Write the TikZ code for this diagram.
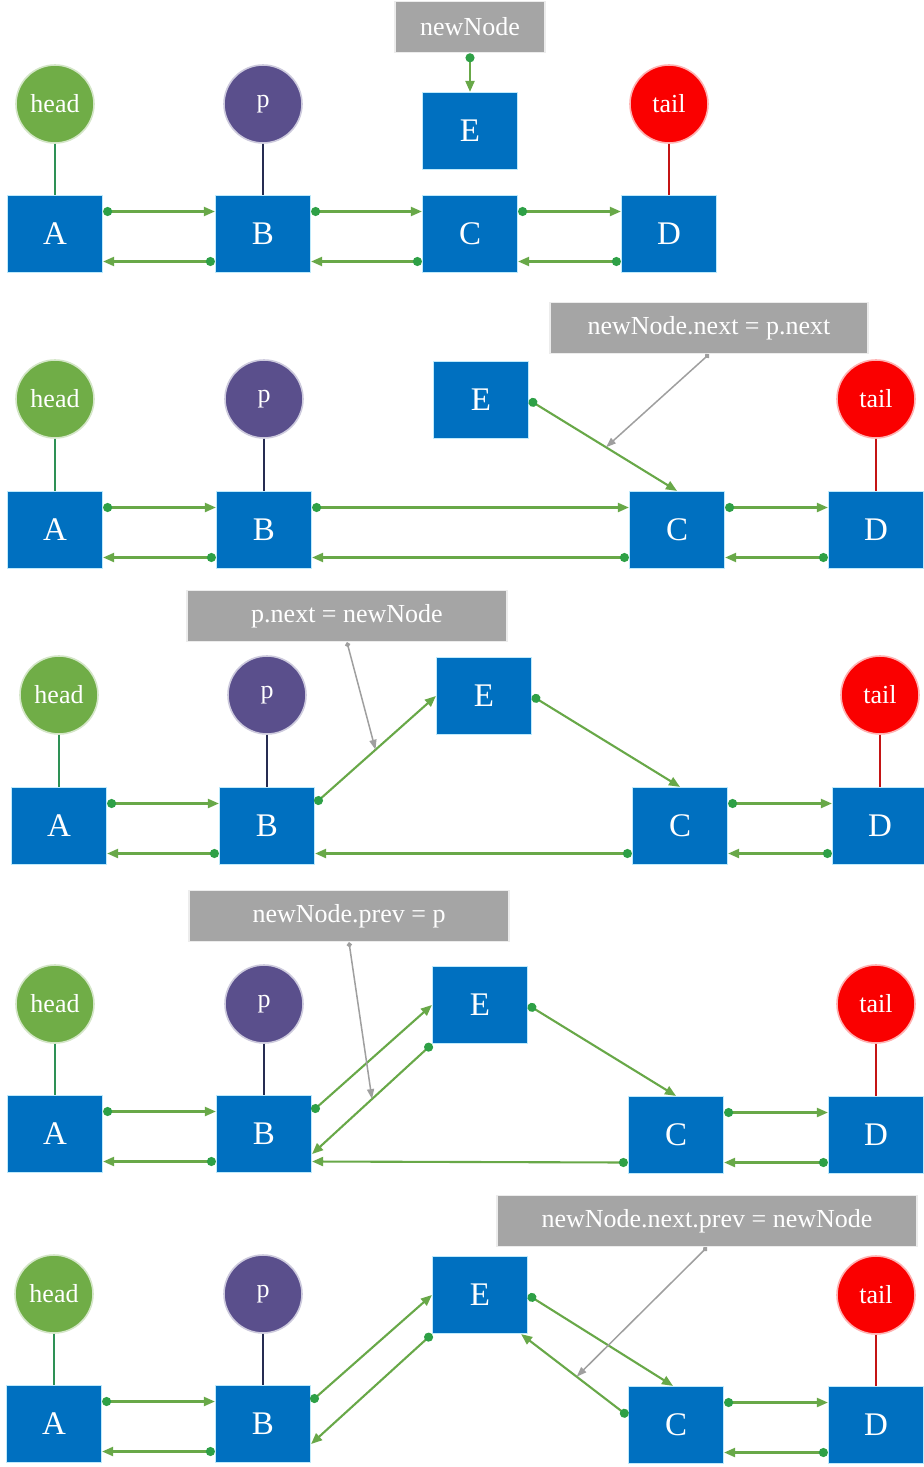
\documentclass[tikz,border=0pt]{standalone}
\usepackage{fontspec}
\setmainfont{Liberation Serif}
\usepackage{tikz}
\usetikzlibrary{arrows.meta}

\definecolor{boxblue}{RGB}{0,112,192}
\definecolor{headgreen}{RGB}{112,173,71}
\definecolor{ppurple}{RGB}{90,79,140}
\definecolor{tailred}{RGB}{250,0,0}
\definecolor{notegray}{RGB}{165,165,165}
\definecolor{ptrgreen}{RGB}{104,168,72}
\definecolor{dotgreen}{RGB}{46,160,70}
\definecolor{headline}{RGB}{46,145,85}
\definecolor{pline}{RGB}{38,44,82}
\definecolor{tailline}{RGB}{196,20,20}

\begin{document}
\begin{tikzpicture}[x=0.5pt, y=-0.5pt]
\tikzset{
  elem/.style={rectangle, fill=boxblue, draw=white!75!cyan, line width=0.6pt,
    minimum width=47.5pt, minimum height=38.5pt, inner sep=0pt, text=white,
    font=\fontsize{16.5}{18}\selectfont},
  refc/.style={circle, draw=white!70!#1, fill=#1, line width=0.8pt,
    minimum size=39pt, inner sep=0pt, text=white, font=\fontsize{13}{15}\selectfont},
  note/.style={rectangle, fill=notegray, draw=white!85!gray, line width=0.8pt,
    minimum height=25.5pt, inner sep=0pt, text=white, font=\fontsize{13}{15}\selectfont},
  ptr/.style={draw=ptrgreen, line width=1.05pt,
    {Circle[length=4.5pt, color=dotgreen]}-{Triangle[length=5.5pt, width=4.5pt]}},
  hint/.style={draw=gray!75, line width=0.75pt,
    {Circle[length=2.5pt]}-{Triangle[length=5pt, width=3.5pt]}},
  fwd/.style={yshift=11.25pt},
  bwd/.style={yshift=-13.75pt}
}
\fill[white] (0,0) rectangle (924,1467);
\useasboundingbox (0,0) rectangle (924,1467);

\node[note, minimum width=75pt] (note1) at (470,27) {newNode};
\node[refc=headgreen] (head1) at (55,104) {head};
\node[refc=ppurple] (p1) at (263,104) {p};
\node[refc=tailred] (tail1) at (669,104) {tail};
\node[elem] (E1) at (470,131) {E};
\node[elem] (A1) at (55,234) {A};
\node[elem] (B1) at (263,234) {B};
\node[elem] (C1) at (470,234) {C};
\node[elem] (D1) at (669,234) {D};
\draw[headline, line width=0.8pt] (head1) -- (A1);
\draw[pline, line width=0.8pt] (p1) -- (B1);
\draw[tailline, line width=0.8pt] (tail1) -- (D1);
\draw[ptr] (note1.south) -- (E1.north);
\draw[ptr] ([fwd]A1.east) -- ([fwd]B1.west);
\draw[ptr] ([bwd]B1.west) -- ([bwd]A1.east);
\draw[ptr] ([fwd]B1.east) -- ([fwd]C1.west);
\draw[ptr] ([bwd]C1.west) -- ([bwd]B1.east);
\draw[ptr] ([fwd]C1.east) -- ([fwd]D1.west);
\draw[ptr] ([bwd]D1.west) -- ([bwd]C1.east);

\node[note, minimum width=159pt] (note2) at (709,328) {newNode.next = p.next};
\node[refc=headgreen] (head2) at (55,399) {head};
\node[refc=ppurple] (p2) at (264,399) {p};
\node[refc=tailred] (tail2) at (876,399) {tail};
\node[elem] (E2) at (481,400) {E};
\node[elem] (A2) at (55,530) {A};
\node[elem] (B2) at (264,530) {B};
\node[elem] (C2) at (677,530) {C};
\node[elem] (D2) at (876,530) {D};
\draw[headline, line width=0.8pt] (head2) -- (A2);
\draw[pline, line width=0.8pt] (p2) -- (B2);
\draw[tailline, line width=0.8pt] (tail2) -- (D2);
\draw[ptr] ([fwd]A2.east) -- ([fwd]B2.west);
\draw[ptr] ([bwd]B2.west) -- ([bwd]A2.east);
\draw[ptr] ([fwd]B2.east) -- ([fwd]C2.west);
\draw[ptr] ([bwd]C2.west) -- ([bwd]B2.east);
\draw[ptr] ([fwd]C2.east) -- ([fwd]D2.west);
\draw[ptr] ([bwd]D2.west) -- ([bwd]C2.east);
\draw[ptr] (E2.east) -- (C2.north) coordinate[pos=0.52] (m2);
\draw[hint] (note2.south) -- (m2);

\node[note, minimum width=160pt] (note3) at (347,616) {p.next = newNode};
\node[refc=headgreen] (head3) at (59,695) {head};
\node[refc=ppurple] (p3) at (267,695) {p};
\node[refc=tailred] (tail3) at (880,695) {tail};
\node[elem] (E3) at (484,696) {E};
\node[elem] (A3) at (59,826) {A};
\node[elem] (B3) at (267,826) {B};
\node[elem] (C3) at (680,826) {C};
\node[elem] (D3) at (880,826) {D};
\draw[headline, line width=0.8pt] (head3) -- (A3);
\draw[pline, line width=0.8pt] (p3) -- (B3);
\draw[tailline, line width=0.8pt] (tail3) -- (D3);
\draw[ptr] ([fwd]A3.east) -- ([fwd]B3.west);
\draw[ptr] ([bwd]B3.west) -- ([bwd]A3.east);
\draw[ptr] ([fwd]B3.east) -- (E3.west) coordinate[pos=0.5] (m3);
\draw[ptr] (E3.east) -- (C3.north);
\draw[ptr] ([bwd]C3.west) -- ([bwd]B3.east);
\draw[ptr] ([fwd]C3.east) -- ([fwd]D3.west);
\draw[ptr] ([bwd]D3.west) -- ([bwd]C3.east);
\draw[hint] (note3.south) -- (m3);

\node[note, minimum width=160pt] (note4) at (349,916) {newNode.prev = p};
\node[refc=headgreen] (head4) at (55,1004) {head};
\node[refc=ppurple] (p4) at (264,1004) {p};
\node[refc=tailred] (tail4) at (876,1004) {tail};
\node[elem] (E4) at (480,1005) {E};
\node[elem] (A4) at (55,1134) {A};
\node[elem] (B4) at (264,1134) {B};
\node[elem] (C4) at (676,1135) {C};
\node[elem] (D4) at (876,1135) {D};
\draw[headline, line width=0.8pt] (head4) -- (A4);
\draw[pline, line width=0.8pt] (p4) -- (B4);
\draw[tailline, line width=0.8pt] (tail4) -- (D4);
\draw[ptr] ([fwd]A4.east) -- ([fwd]B4.west);
\draw[ptr] ([bwd]B4.west) -- ([bwd]A4.east);
\draw[ptr] ([fwd]B4.east) -- (E4.west);
\draw[ptr] (E4.south west) -- ([yshift=-10pt]B4.east) coordinate[pos=0.5] (m4);
\draw[ptr] (E4.east) -- (C4.north);
\draw[ptr] ([bwd]C4.west) -- ([bwd]B4.east);
\draw[ptr] ([fwd]C4.east) -- ([fwd]D4.west);
\draw[ptr] ([bwd]D4.west) -- ([bwd]C4.east);
\draw[hint] (note4.south) -- (m4);

\node[note, minimum width=210pt] (note5) at (707,1221) {newNode.next.prev = newNode};
\node[refc=headgreen] (head5) at (54,1294) {head};
\node[refc=ppurple] (p5) at (263,1294) {p};
\node[refc=tailred] (tail5) at (876,1295) {tail};
\node[elem] (E5) at (480,1295) {E};
\node[elem] (A5) at (54,1424) {A};
\node[elem] (B5) at (263,1424) {B};
\node[elem] (C5) at (676,1425) {C};
\node[elem] (D5) at (876,1425) {D};
\draw[headline, line width=0.8pt] (head5) -- (A5);
\draw[pline, line width=0.8pt] (p5) -- (B5);
\draw[tailline, line width=0.8pt] (tail5) -- (D5);
\draw[ptr] ([fwd]A5.east) -- ([fwd]B5.west);
\draw[ptr] ([bwd]B5.west) -- ([bwd]A5.east);
\draw[ptr] ([fwd]B5.east) -- (E5.west);
\draw[ptr] (E5.south west) -- ([yshift=-10pt]B5.east);
\draw[ptr] (E5.east) -- ([xshift=-1.5pt]C5.north);
\draw[ptr] ([yshift=4.5pt]C5.west) -- ([xshift=-3.5pt]E5.south east) coordinate[pos=0.48] (m5);
\draw[ptr] ([fwd]C5.east) -- ([fwd]D5.west);
\draw[ptr] ([bwd]D5.west) -- ([bwd]C5.east);
\draw[hint] (note5.south) -- (m5);
\end{tikzpicture}
\end{document}
